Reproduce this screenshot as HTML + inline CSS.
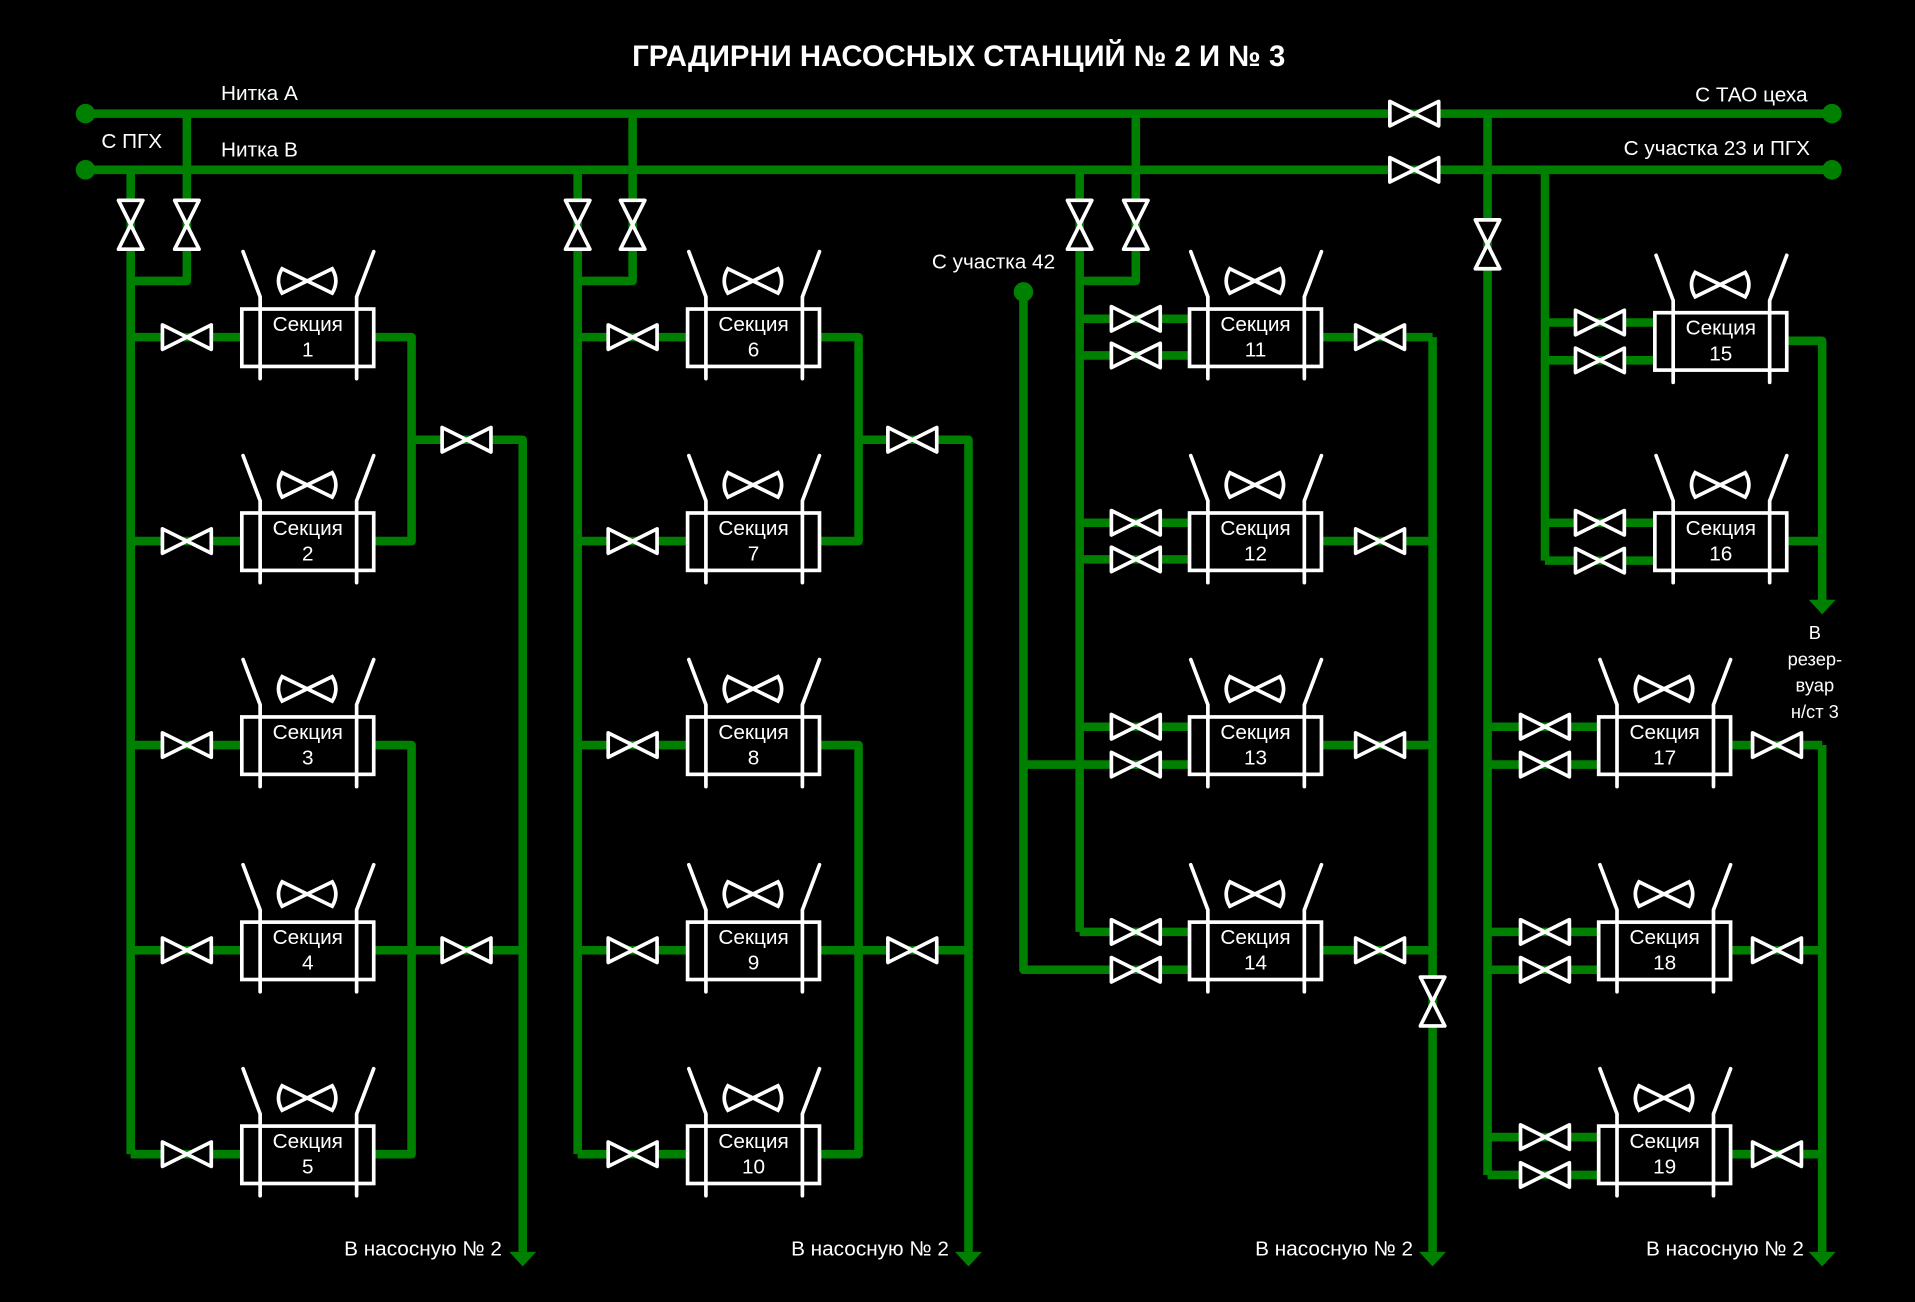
<!DOCTYPE html>
<html><head><meta charset="utf-8"><style>
html,body{margin:0;padding:0;background:#000;}
svg{display:block;}
text{font-family:"Liberation Sans",sans-serif;fill:#fff;}
</style></head><body>
<svg width="1915" height="1302" viewBox="0 0 1568 1066" xmlns="http://www.w3.org/2000/svg">
<defs>
<path id="vh" d="M-20,-10 L20,10 L20,-10 L-20,10 Z" fill="#000" stroke="#fff" stroke-width="3" stroke-linejoin="round"/>
<path id="vv" d="M-10,-20 L10,20 L-10,20 L10,-20 Z" fill="#000" stroke="#fff" stroke-width="3" stroke-linejoin="round"/>
<g id="sec" fill="none" stroke="#fff" stroke-width="3" stroke-linecap="round">
<rect x="-54" y="-23" width="108" height="47" fill="#000"/>
<path d="M-39,-33 V34 M40,-33 V34 M-39,-33 L-53,-70 M40,-33 L54,-70"/>
<path d="M-21,-56 L20,-36 Q26,-46 20,-56 L-21,-36 Q-27,-46 -21,-56 Z"/>
</g>
</defs>
<rect width="1568" height="1066" fill="#000"/>
<g fill="none" stroke="#008000" stroke-width="7" stroke-linejoin="round">
<path d="M70,93 H1500 M70,139 H1500"/>
<g>
<path d="M153,93 V230 H107 M107,139 V945 M107,276 H198 M107,443 H198 M107,610 H198 M107,778 H198 M107,945 H198"/>
<path d="M306,276 H337 V443 H306 M337,360 H428 V1025 M306,610 H337 V945 H306 M306,778 H428"/>
</g>
<g transform="translate(366,0)">
<path d="M152,93 V230 H107 M107,139 V945 M107,276 H198 M107,443 H198 M107,610 H198 M107,778 H198 M107,945 H198"/>
<path d="M306,276 H337 V443 H306 M337,360 H427 V1025 M306,610 H337 V945 H306 M306,778 H427"/>
</g>
<path d="M930,93 V230 H884 M884,139 V763 M884,261 H975 M884,291 H975 M884,428 H975 M884,458 H975 M884,595 H975 M884,626 H975 M884,763 H975 M838,239 V794 H975 M838,626 H884"/>
<path d="M1083,276 H1173 M1083,443 H1173 M1083,610 H1173 M1083,778 H1173 M1173,276 V1025"/>
<path d="M1218,93 V962 M1218,595 H1310 M1218,626 H1310 M1218,763 H1310 M1218,794 H1310 M1218,931 H1310 M1218,962 H1310"/>
<path d="M1418,610 H1492 M1418,778 H1492 M1418,945 H1492 M1492,610 V1025"/>
<path d="M1265,139 V459 M1265,264 H1355 M1265,295 H1355 M1265,428 H1355 M1265,459 H1355 M1463,279 H1492 V492 M1463,443 H1492"/>
</g>
<g fill="#008000">
<circle cx="70" cy="93" r="8"/><circle cx="70" cy="139" r="8"/>
<circle cx="1500" cy="93" r="8"/><circle cx="1500" cy="139" r="8"/>
<circle cx="838" cy="239" r="8"/>
<polygon points="417,1025 439,1025 428,1037"/>
<polygon points="782,1025 804,1025 793,1037"/>
<polygon points="1162,1025 1184,1025 1173,1037"/>
<polygon points="1481,1025 1503,1025 1492,1037"/>
<polygon points="1481,491 1503,491 1492,503"/>
</g>
<use href="#vh" x="1158" y="93"/><use href="#vh" x="1158" y="139"/>
<use href="#vv" x="107" y="184"/><use href="#vv" x="153" y="184"/>
<use href="#vv" x="473" y="184"/><use href="#vv" x="518" y="184"/>
<use href="#vv" x="884" y="184"/><use href="#vv" x="930" y="184"/>
<use href="#vv" x="1218" y="200"/><use href="#vv" x="1173" y="820"/>
<use href="#vh" x="153" y="276"/><use href="#vh" x="153" y="443"/><use href="#vh" x="153" y="610"/><use href="#vh" x="153" y="778"/><use href="#vh" x="153" y="945"/>
<use href="#vh" x="518" y="276"/><use href="#vh" x="518" y="443"/><use href="#vh" x="518" y="610"/><use href="#vh" x="518" y="778"/><use href="#vh" x="518" y="945"/>
<use href="#vh" x="382" y="360"/><use href="#vh" x="382" y="778"/>
<use href="#vh" x="747" y="360"/><use href="#vh" x="747" y="778"/>
<use href="#vh" x="930" y="261"/><use href="#vh" x="930" y="291"/><use href="#vh" x="930" y="428"/><use href="#vh" x="930" y="458"/>
<use href="#vh" x="930" y="595"/><use href="#vh" x="930" y="626"/><use href="#vh" x="930" y="763"/><use href="#vh" x="930" y="794"/>
<use href="#vh" x="1130" y="276"/><use href="#vh" x="1130" y="443"/><use href="#vh" x="1130" y="610"/><use href="#vh" x="1130" y="778"/>
<use href="#vh" x="1310" y="264"/><use href="#vh" x="1310" y="295"/><use href="#vh" x="1310" y="428"/><use href="#vh" x="1310" y="459"/>
<use href="#vh" x="1265" y="595"/><use href="#vh" x="1265" y="626"/><use href="#vh" x="1265" y="763"/><use href="#vh" x="1265" y="794"/><use href="#vh" x="1265" y="931"/><use href="#vh" x="1265" y="962"/>
<use href="#vh" x="1455" y="610"/><use href="#vh" x="1455" y="778"/><use href="#vh" x="1455" y="945"/>
<use href="#sec" x="252" y="276"/><use href="#sec" x="252" y="443"/><use href="#sec" x="252" y="610"/><use href="#sec" x="252" y="778"/><use href="#sec" x="252" y="945"/>
<use href="#sec" x="617" y="276"/><use href="#sec" x="617" y="443"/><use href="#sec" x="617" y="610"/><use href="#sec" x="617" y="778"/><use href="#sec" x="617" y="945"/>
<use href="#sec" x="1028" y="276"/><use href="#sec" x="1028" y="443"/><use href="#sec" x="1028" y="610"/><use href="#sec" x="1028" y="778"/>
<use href="#sec" x="1409" y="279"/><use href="#sec" x="1409" y="443"/>
<use href="#sec" x="1363" y="610"/><use href="#sec" x="1363" y="778"/><use href="#sec" x="1363" y="945"/>
<g font-size="17" text-anchor="middle">
<text x="252" y="271">Секция</text><text x="252" y="292">1</text>
<text x="252" y="438">Секция</text><text x="252" y="459">2</text>
<text x="252" y="605">Секция</text><text x="252" y="626">3</text>
<text x="252" y="773">Секция</text><text x="252" y="794">4</text>
<text x="252" y="940">Секция</text><text x="252" y="961">5</text>
<text x="617" y="271">Секция</text><text x="617" y="292">6</text>
<text x="617" y="438">Секция</text><text x="617" y="459">7</text>
<text x="617" y="605">Секция</text><text x="617" y="626">8</text>
<text x="617" y="773">Секция</text><text x="617" y="794">9</text>
<text x="617" y="940">Секция</text><text x="617" y="961">10</text>
<text x="1028" y="271">Секция</text><text x="1028" y="292">11</text>
<text x="1028" y="438">Секция</text><text x="1028" y="459">12</text>
<text x="1028" y="605">Секция</text><text x="1028" y="626">13</text>
<text x="1028" y="773">Секция</text><text x="1028" y="794">14</text>
<text x="1409" y="274">Секция</text><text x="1409" y="295">15</text>
<text x="1409" y="438">Секция</text><text x="1409" y="459">16</text>
<text x="1363" y="605">Секция</text><text x="1363" y="626">17</text>
<text x="1363" y="773">Секция</text><text x="1363" y="794">18</text>
<text x="1363" y="940">Секция</text><text x="1363" y="961">19</text>
</g>
<text x="785" y="54" font-size="24" font-weight="bold" text-anchor="middle">ГРАДИРНИ НАСОСНЫХ СТАНЦИЙ № 2 И № 3</text>
<g font-size="17">
<text x="181" y="82">Нитка А</text>
<text x="83" y="121">С ПГХ</text>
<text x="181" y="128">Нитка В</text>
<text x="1480" y="83" text-anchor="end">С ТАО цеха</text>
<text x="1482" y="127" text-anchor="end">С участка 23 и ПГХ</text>
<text x="763" y="220">С участка 42</text>
<text x="411" y="1028" text-anchor="end">В насосную № 2</text>
<text x="777" y="1028" text-anchor="end">В насосную № 2</text>
<text x="1157" y="1028" text-anchor="end">В насосную № 2</text>
<text x="1477" y="1028" text-anchor="end">В насосную № 2</text>
</g>
<g font-size="15" text-anchor="middle">
<text x="1486" y="523">В</text>
<text x="1486" y="545">резер-</text>
<text x="1486" y="566">вуар</text>
<text x="1486" y="588">н/ст 3</text>
</g>
</svg>
</body></html>
